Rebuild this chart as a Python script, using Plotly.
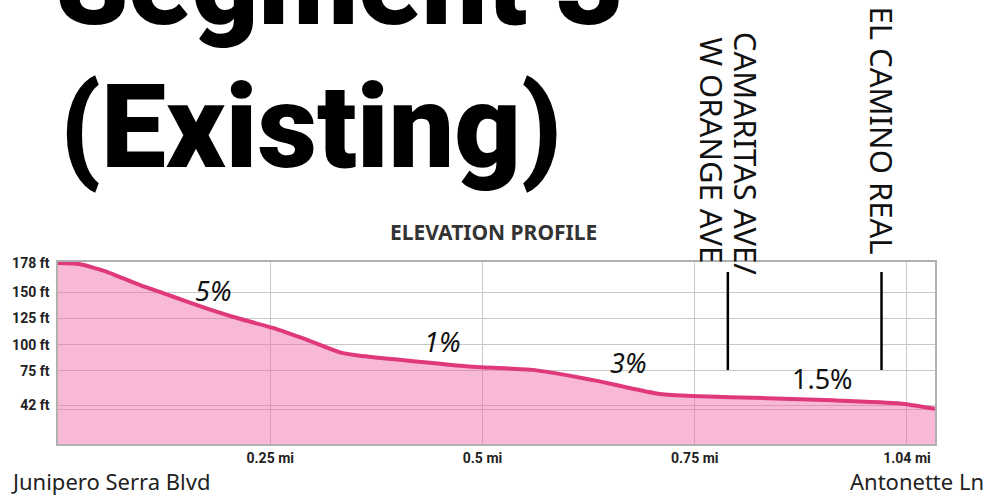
import plotly.graph_objects as go

# ---- data ----
distance_mi = [0, 0.025, 0.056, 0.096, 0.135, 0.174, 0.213, 0.253, 0.292, 0.331, 0.351,
               0.41, 0.489, 0.559, 0.599, 0.638, 0.677, 0.709, 0.748, 0.835, 0.913, 0.992, 1.033]
elevation_ft = [178, 177, 170, 157, 146, 135, 125, 116, 105, 93, 90,
                85, 79, 76, 71, 65, 58, 53, 51, 49, 47, 44, 39]

y_tickvals = [178, 150, 125, 100, 75, 42]
y_ticktext = ["178 ft", "150 ft", "125 ft", "100 ft", "75 ft", "42 ft"]
x_tickvals = [0.25, 0.5, 0.75, 1.0]
x_ticktext = ["0.25 mi", "0.5 mi", "0.75 mi", "1.04 mi"]

grade_labels = ["5%", "1%", "3%", "1.5%"]
grade_x = [0.182, 0.452, 0.671, 0.900]
grade_y = [152, 103, 83, 68]
grade_italic = [True, True, True, False]

street_names = ["CAMARITAS AVE/", "W ORANGE AVE", "EL CAMINO REAL"]
street_label_x = [0.789, 0.789, 0.970]
street_label_shift = [18, -16, 0]
street_label_y = [1.595, 1.615, 1.725]
street_x = [0.789, 0.970]

title_lines = ["Segment 3", "(Existing)"]
start_label = "Junipero Serra Blvd"
end_label = "Antonette Ln"
chart_label = "ELEVATION PROFILE"

# ---- figure ----
fig = go.Figure()
fig.add_trace(go.Scatter(
    x=distance_mi, y=elevation_ft, mode="lines",
    line=dict(color="#E0397B", width=4, shape="spline", smoothing=0.5),
    fill="tozeroy", fillcolor="rgba(240,100,165,0.45)",
    hoverinfo="skip", showlegend=False,
))

tick_font = dict(family="Roboto, sans-serif", size=14, color="#222222", weight="bold")

fig.update_xaxes(
    range=[0, 1.033], tickvals=x_tickvals, ticktext=x_ticktext,
    showgrid=True, gridcolor="#c8c8c8", gridwidth=1,
    showline=True, mirror=True, linecolor="#b0b0b0", linewidth=1.5,
    ticks="", tickfont=tick_font, zeroline=False,
)
fig.update_yaxes(
    range=[5.3, 178.9], tickvals=y_tickvals, ticktext=y_ticktext,
    showgrid=True, gridcolor="#c8c8c8", gridwidth=1,
    minor=dict(tickvals=[38], showgrid=True, gridcolor="#c8c8c8", gridwidth=1),
    showline=True, mirror=True, linecolor="#b0b0b0", linewidth=1.5,
    ticks="", tickfont=tick_font, zeroline=False, ticklabelstandoff=4,
)

title_font = dict(family="Roboto", size=116, color="#000", weight=900)
annotations = []
# title
annotations.append(dict(text=title_lines[0], xref="paper", yref="paper",
                        x=(54 - 58) / 877, y=(444 + 16) / 182, xanchor="left", yanchor="middle",
                        showarrow=False, font=title_font))
annotations.append(dict(text=title_lines[1], xref="paper", yref="paper",
                        x=(58 - 58) / 877, y=(444 - 127) / 182, xanchor="left", yanchor="middle",
                        showarrow=False, font=title_font))
# chart label
annotations.append(dict(text="<b>" + chart_label + "</b>", xref="paper", yref="paper",
                        x=(493 - 58) / 877, y=(444 - 232) / 182, xanchor="center", yanchor="middle",
                        showarrow=False, font=dict(family="Noto Sans", size=21, color="#333333")))
# endpoints
annotations.append(dict(text=start_label, xref="paper", yref="paper",
                        x=(9 - 58) / 877, y=(444 - 481) / 182, xanchor="left", yanchor="middle",
                        showarrow=False, font=dict(family="Noto Sans", size=22, color="#222222")))
annotations.append(dict(text=end_label, xref="paper", yref="paper",
                        x=(986 - 58) / 877, y=(444 - 481) / 182, xanchor="right", yanchor="middle",
                        showarrow=False, font=dict(family="Noto Sans", size=22, color="#222222")))
# grades
for lab, gx, gy, it in zip(grade_labels, grade_x, grade_y, grade_italic):
    annotations.append(dict(text=lab, x=gx, y=gy, xref="x", yref="y", showarrow=False,
                            xanchor="center", yanchor="middle",
                            font=dict(family="Noto Sans", size=27, color="#111111",
                                      style="italic" if it else "normal")))
# streets
for name, sx, xs, sy in zip(street_names, street_label_x, street_label_shift, street_label_y):
    annotations.append(dict(text=name, x=sx, y=sy, xref="x", yref="paper", showarrow=False,
                            xshift=xs, textangle=90, xanchor="center", yanchor="middle",
                            font=dict(family="Noto Sans", size=31, color="#111111")))

shapes = []
for sx in street_x:
    shapes.append(dict(type="line", xref="x", yref="paper", x0=sx, x1=sx,
                       y0=(444 - 272) / 182, y1=(444 - 370) / 182,
                       line=dict(color="#000000", width=2.5)))

fig.update_layout(
    width=988, height=499,
    margin=dict(l=58, r=53, t=262, b=55),
    paper_bgcolor="white", plot_bgcolor="white",
    annotations=annotations, shapes=shapes,
    showlegend=False,
)

fig.write_html("out.html", config={"displayModeBar": False},
               post_script="document.body.style.margin='0';")
